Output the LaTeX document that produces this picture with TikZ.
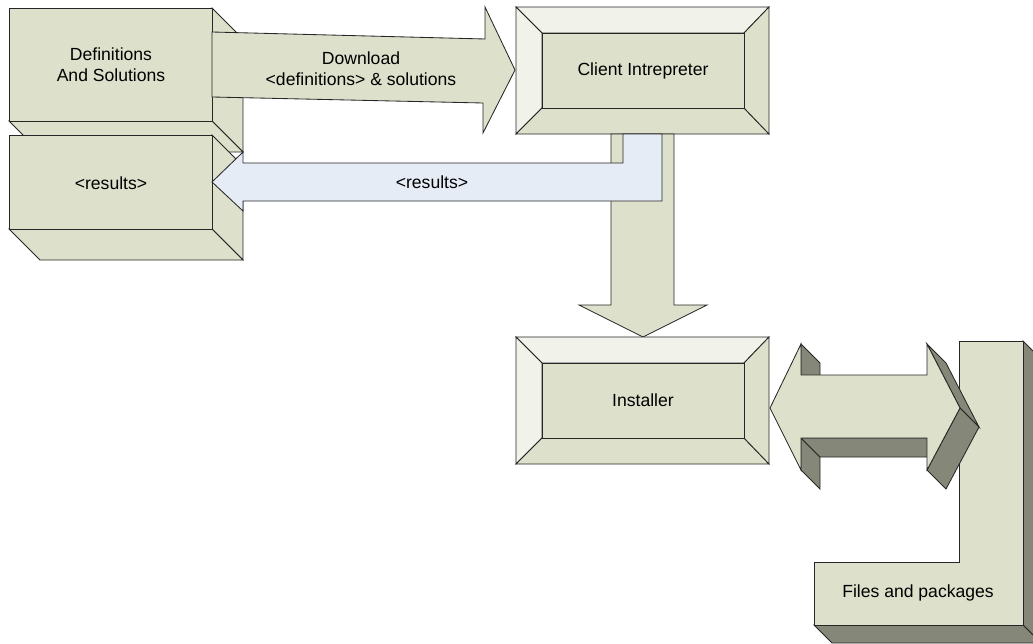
\documentclass[tikz,border=0pt]{standalone}
\usepackage{fontspec}
\setmainfont{Liberation Sans}
\usetikzlibrary{positioning}
\definecolor{faceolive}{HTML}{DDE0CB}
\definecolor{lightolive}{HTML}{F1F2EA}
\definecolor{darkolive}{HTML}{858879}
\definecolor{resblue}{HTML}{E5ECF6}

\begin{document}
\begin{tikzpicture}[x=0.025cm,y=-0.025cm,font=\fontsize{12.5}{15}\selectfont,line width=0.6pt,line join=miter]

	\tikzset{face/.style={draw=black!85, fill=faceolive}}
	\tikzset{lightface/.style={draw=black!85, fill=lightolive}}
	\tikzset{darkface/.style={draw=black!85, fill=darkolive}}
	\tikzset{resarrow/.style={draw=black!85, fill=resblue}}
	\tikzset{label txt/.style={align=center, inner sep=0pt}}

	\useasboundingbox (0,0) rectangle (1033,644);
	\clip (0,0) rectangle (1033,644);

	% definitions block
	\draw[face] (212,8) -- (243,39) -- (243,152) -- (212,121) -- cycle;
	\draw[face] (9,121) -- (212,121) -- (243,152) -- (40,152) -- cycle;
	\draw[face] (9,8) rectangle (212,121);
	\node[label txt] (defs) at (111,65) {Definitions\\And Solutions};

	% download arrow
	\draw[face] (212,32) -- (485,39) -- (485,7) -- (515,70) -- (483,133) -- (483,103) -- (212,97) -- cycle;
	\node[label txt] (download) at (361,69) {Download\\<definitions> \& solutions};

	% results block
	\draw[face] (212,135) -- (243,166) -- (243,260) -- (212,229) -- cycle;
	\draw[face] (9,229) -- (212,229) -- (243,260) -- (40,260) -- cycle;
	\draw[face] (9,135) rectangle (212,229);
	\node[label txt] (results) at (111,183) {<results>};

	% client intrepreter
	\draw[lightface] (516,7) -- (769,7) -- (744,33) -- (542,33) -- cycle;
	\draw[lightface] (516,7) -- (542,33) -- (542,108) -- (516,134) -- cycle;
	\draw[face] (516,134) -- (542,108) -- (744,108) -- (769,134) -- cycle;
	\draw[face] (769,7) -- (769,134) -- (744,108) -- (744,33) -- cycle;
	\draw[face] (542,33) rectangle (744,108);
	\node[label txt] (client) at (643,70.5) {Client Intrepreter};

	% client -> installer
	\draw[face] (611,134) -- (611,305) -- (579,305) -- (643,337) -- (707,305) -- (674,305) -- (674,134) -- cycle;

	% client -> results
	\draw[resarrow] (623,134) -- (623,163) -- (243,163) -- (243,152) -- (212,182) -- (243,211) -- (243,201) -- (662,201) -- (662,134) -- cycle;
	\node[label txt] (resultslbl) at (432,182) {<results>};

	% installer
	\draw[lightface] (516,337) -- (769,337) -- (744,363) -- (542,363) -- cycle;
	\draw[lightface] (516,337) -- (542,363) -- (542,438) -- (516,464) -- cycle;
	\draw[face] (516,464) -- (542,438) -- (744,438) -- (769,464) -- cycle;
	\draw[face] (769,337) -- (769,464) -- (744,438) -- (744,363) -- cycle;
	\draw[face] (542,363) rectangle (744,438);
	\node[label txt] (installer) at (643,400) {Installer};

	% files and packages
	\draw[darkface] (1023,341) -- (1041,359) -- (1041,643) -- (1023,625) -- cycle;
	\draw[darkface] (814,625) -- (1023,625) -- (1041,643) -- (832,643) -- cycle;
	\draw[face] (959,341) -- (1023,341) -- (1023,625) -- (814,625) -- (814,562) -- (959,562) -- cycle;
	\node[label txt] (files) at (918,593) {Files and packages};

	% installer <-> files
	\draw[darkface] (801,344) -- (820,363) -- (820,394) -- (801,375) -- cycle;
	\draw[darkface] (801,438) -- (820,457) -- (820,489) -- (801,470) -- cycle;
	\draw[darkface] (801,438) -- (927,438) -- (946,457) -- (820,457) -- cycle;
	\draw[darkface] (927,344) -- (946,363) -- (979,427) -- (960,408) -- cycle;
	\draw[darkface] (960,408) -- (979,427) -- (946,489) -- (927,470) -- cycle;
	\draw[face] (770,408) -- (801,344) -- (801,375) -- (927,375) -- (927,344) -- (960,408) -- (927,470) -- (927,438) -- (801,438) -- (801,470) -- cycle;

\end{tikzpicture}
\end{document}
